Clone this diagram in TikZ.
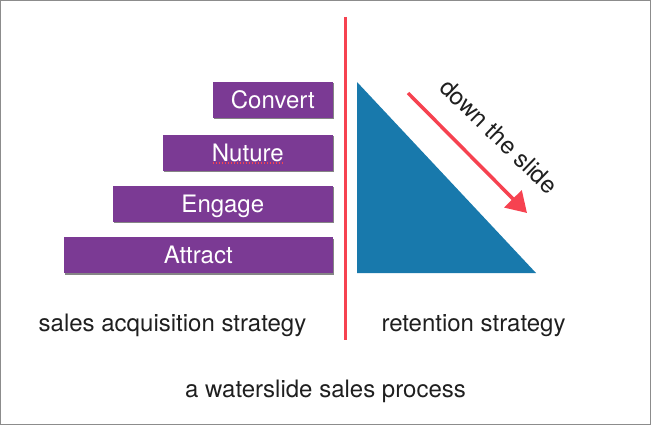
\documentclass[tikz,border=0pt]{standalone}
\usepackage{fontspec}
\setmainfont{TeX Gyre Heros}
\usepackage{xcolor}
\usepackage{tikz}
\usetikzlibrary{positioning, arrows.meta, shadows}

\definecolor{barpurple}{RGB}{123,58,148}
\definecolor{slideblue}{RGB}{24,121,172}
\definecolor{chalkred}{RGB}{246,66,80}
\definecolor{framegray}{RGB}{140,140,140}

\begin{document}
\begin{tikzpicture}[
    x=1pt, y=-1pt,
    every node/.style={font=\fontsize{24}{28}\selectfont, text=black!88},
    bar/.style={rectangle, fill=barpurple, text=white, minimum width=#1, minimum height=36pt,
        text height=17pt, text depth=0pt, inner sep=0pt,
        drop shadow={shadow xshift=1.5pt, shadow yshift=-1.2pt, fill=black!60, opacity=0.8}},
    bar/.default=120pt,
    caption/.style={anchor=base},
    arr/.style={-{Triangle[length=20pt, width=24pt]}, line width=3.5pt, draw=chalkred},
    divider/.style={line width=3pt, draw=chalkred},
]
    \useasboundingbox (0,0) rectangle (651,425);
    \draw[framegray, line width=1.2pt] (0.6,0.6) rectangle (650.4,424.4);

    % acquisition bars
    \node[bar, anchor=north east] (convert) at (333,82) {Convert};
    \node[bar=170pt, below=16pt of convert.south east, anchor=north east] (nuture) {Nuture};
    \node[bar=220pt, below=15pt of nuture.south east, anchor=north east] (engage) {Engage};
    \node[bar=269pt, below=15pt of engage.south east, anchor=north east] (attract) {Attract};
    \draw[chalkred, line width=1.6pt, dash pattern=on 1.6pt off 1.4pt]
        ([shift={(-35,10.5)}]nuture.center) -- ([shift={(35,10.5)}]nuture.center);

    % divider
    \coordinate (divtop) at (345,17);
    \coordinate (divbot) at (345,340);
    \draw[divider] (divtop) -- (divbot);

    % the slide
    \coordinate (slidetop) at (357,82);
    \coordinate (slideleft) at (357,273);
    \coordinate (slideright) at (536,273);
    \fill[slideblue] (slidetop) -- (slideleft) -- (slideright) -- cycle;

    \coordinate (arrstart) at (408,93);
    \coordinate (arrend) at (527,213);
    \draw[arr] (arrstart) -- (arrend);
    \node[rotate=-44] (down) at (499,136) {down the slide};

    % captions
    \node[caption] (acq) at (172.5,331) {sales acquisition strategy};
    \node[caption] (ret) at (473.5,331) {retention strategy};
    \node[caption] (title) at (325.5,397) {a waterslide sales process};
\end{tikzpicture}
\end{document}
